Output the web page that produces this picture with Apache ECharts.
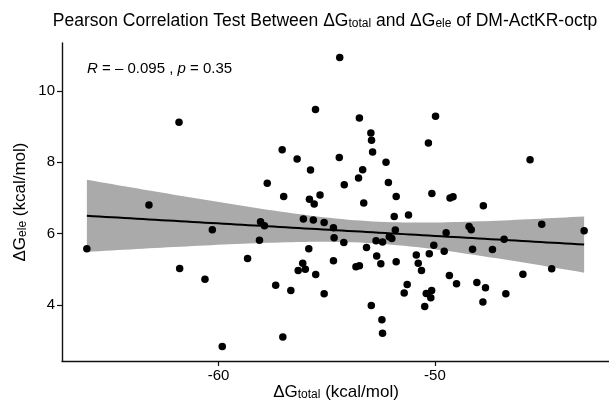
<!DOCTYPE html>
<html>
<head>
<meta charset="utf-8">
<script src="https://cdn.jsdelivr.net/npm/echarts@6/dist/echarts.min.js"></script>
<style>html,body{margin:0;padding:0;background:#fff;}#c{width:609px;height:406px;}</style>
</head>
<body>
<div id="c"></div>
<script>
// ΔG_total (x) and ΔG_ele (y) values
const dGtotal = [
  -66.09,-63.22,-61.83,-60.29,-61.80,-60.63,-59.83,-58.66,-58.11,-58.06,
  -57.88,-57.36,-57.03,-56.66,-56.08,-55.62,-55.12,-55.83,-56.11,-56.32,
  -55.99,-55.51,-55.12,-54.69,-54.66,-54.21,-54.69,-53.65,-53.49,-53.16,
  -52.94,-52.45,-52.42,-52.69,-52.50,-52.72,-52.42,-52.11,-51.99,-51.83,
  -51.79,-51.88,-55.52,-57.06,-56.37,-55.75,-57.75,-56.99,-55.80,-55.58,
  -55.31,-54.42,-54.19,-53.49,-49.97,-52.96,-52.93,-52.88,-50.30,-52.26,
  -53.34,-53.53,-52.15,-53.29,-51.79,-50.14,-49.30,-49.16,-51.22,-54.40,
  -45.60,-47.76,-50.05,-49.48,-48.42,-48.32,-45.06,-43.10,-46.80,-50.86,
  -50.77,-50.62,-50.26,-49.57,-48.26,-47.34,-49.33,-49.00,-51.28,-51.42,
  -50.40,-50.15,-50.19,-50.47,-48.06,-47.66,-47.78,-46.72,-45.93,-44.60
];
const dGele = [
   5.57, 6.80, 9.12, 6.11, 5.02, 4.72, 2.83, 5.30, 5.81, 6.33,
   6.22, 4.55, 3.10, 4.40, 6.41, 6.38, 6.31, 5.57, 5.17, 4.96,
   5.00, 4.85, 4.31, 6.16, 5.88, 5.75, 5.24, 5.07, 5.10, 5.61,
   3.98, 3.58, 3.20, 5.37, 5.15, 5.80, 5.76, 5.91, 5.86, 6.10,
   5.21, 6.48, 9.48, 8.35, 8.09, 7.78, 7.41, 7.04, 6.96, 6.83,
   7.08, 8.13, 7.37, 9.24, 9.29, 8.82, 8.62, 8.29, 8.54, 8.00,
   7.79, 7.56, 7.43, 6.86, 7.04, 7.12, 7.00, 7.03, 6.52,10.94,
   8.07, 6.78, 5.67, 6.02, 6.20, 6.11, 6.26, 6.08, 5.84, 5.40,
   5.17, 4.96, 5.43, 5.50, 5.56, 5.55, 4.82, 4.59, 4.57, 4.33,
   4.32, 4.40, 4.20, 3.95, 4.63, 4.48, 4.08, 4.31, 4.86, 5.01
];
const xTicks = [-60, -50];
const yTicks = [4, 6, 8, 10];
const annotation = { R: '\u2013 0.095', p: '0.35' };

// linear fit + 95% confidence band (computed from the data)
const n = dGtotal.length;
const mx = dGtotal.reduce((a,b)=>a+b,0)/n;
const my = dGele.reduce((a,b)=>a+b,0)/n;
let sxx=0, sxy=0;
for (let i=0;i<n;i++){ sxx+=(dGtotal[i]-mx)**2; sxy+=(dGtotal[i]-mx)*(dGele[i]-my); }
const slope = sxy/sxx, icpt = my - slope*mx;
let sse=0;
for (let i=0;i<n;i++){ sse += (dGele[i]-(icpt+slope*dGtotal[i]))**2; }
const s = Math.sqrt(sse/(n-2));
const tq = 1.9845;
const xmin = Math.min(...dGtotal), xmax = Math.max(...dGtotal);
const ymin = Math.min(...dGele), ymax = Math.max(...dGele);
const fitLine = [], bandUp = [], bandLo = [];
const NS = 80;
for (let k=0;k<=NS;k++){
  const x = xmin + (xmax-xmin)*k/NS;
  const yh = icpt + slope*x;
  const se = s*Math.sqrt(1/n + (x-mx)**2/sxx);
  fitLine.push([x, yh]); bandUp.push([x, yh+tq*se]); bandLo.push([x, yh-tq*se]);
}
const xr = xmax-xmin, yr = ymax-ymin;

const F = 'Liberation Sans, Arial, sans-serif';
const sub = { fontSize: 12, fontFamily: F, verticalAlign: 'bottom', lineHeight: 12, fill: '#000' };

const chart = echarts.init(document.getElementById('c'), null, {renderer:'canvas'});
chart.setOption({
  animation: false,
  grid: { left: 62, top: 43, width: 548, bottom: 45, containLabel: false },
  xAxis: {
    type: 'value', min: xmin - 0.05*xr, max: xmax + 0.05*xr,
    splitLine: { show: false },
    axisLine: { show: true, onZero: false, lineStyle: { color: '#111', width: 1.4 } },
    axisTick: { show: true, length: 5, customValues: xTicks, lineStyle: { color: '#111', width: 1.2 } },
    axisLabel: { customValues: xTicks, color: '#000', fontSize: 15, fontFamily: F, margin: 7 }
  },
  yAxis: {
    type: 'value', min: ymin - 0.05*yr, max: ymax + 0.05*yr,
    splitLine: { show: false },
    axisLine: { show: true, onZero: false, lineStyle: { color: '#111', width: 1.4 } },
    axisTick: { show: true, length: 5, customValues: yTicks, lineStyle: { color: '#111', width: 1.2 } },
    axisLabel: { customValues: yTicks, color: '#000', fontSize: 15, fontFamily: F, margin: 7 }
  },
  series: [
    {
      type: 'custom', z: 1, silent: true,
      data: [0],
      renderItem: function(params, api){
        const pts = bandUp.map(p=>api.coord(p)).concat(bandLo.slice().reverse().map(p=>api.coord(p)));
        return { type: 'polygon', shape: { points: pts }, style: { fill: '#aaaaaa', stroke: null } };
      }
    },
    {
      type: 'line', z: 2, data: fitLine, showSymbol: false, symbol: 'none',
      lineStyle: { color: '#000', width: 2 }
    },
    {
      type: 'scatter', z: 3, symbolSize: 7.5,
      data: dGtotal.map((x,i)=>[x, dGele[i]]),
      itemStyle: { color: '#000', opacity: 1 }
    }
  ],
  graphic: [
    { type: 'text', x: 325, y: 21, style: {
        text: 'Pearson Correlation Test Between \u0394G{s|total} and \u0394G{s|ele} of DM-ActKR-octp',
        fontSize: 17.5, fontFamily: F, fill: '#000', align: 'center', verticalAlign: 'middle', rich: { s: sub } } },
    { type: 'text', x: 336, y: 392, style: {
        text: '\u0394G{s|total} (kcal/mol)',
        fontSize: 17, fontFamily: F, fill: '#000', align: 'center', verticalAlign: 'middle', rich: { s: sub } } },
    { type: 'text', x: 20, y: 202, rotation: Math.PI/2, style: {
        text: '\u0394G{s|ele} (kcal/mol)',
        fontSize: 17, fontFamily: F, fill: '#000', align: 'center', verticalAlign: 'middle', rich: { s: sub } } },
    { type: 'text', x: 87, y: 69, style: {
        text: '{i|R} = ' + annotation.R + ' , {i|p} = ' + annotation.p,
        fontSize: 15, fontFamily: F, fill: '#000', align: 'left', verticalAlign: 'middle',
        rich: { i: { fontStyle: 'italic', fontSize: 15, fontFamily: F, fill: '#000' } } } }
  ]
});
</script>
</body>
</html>
